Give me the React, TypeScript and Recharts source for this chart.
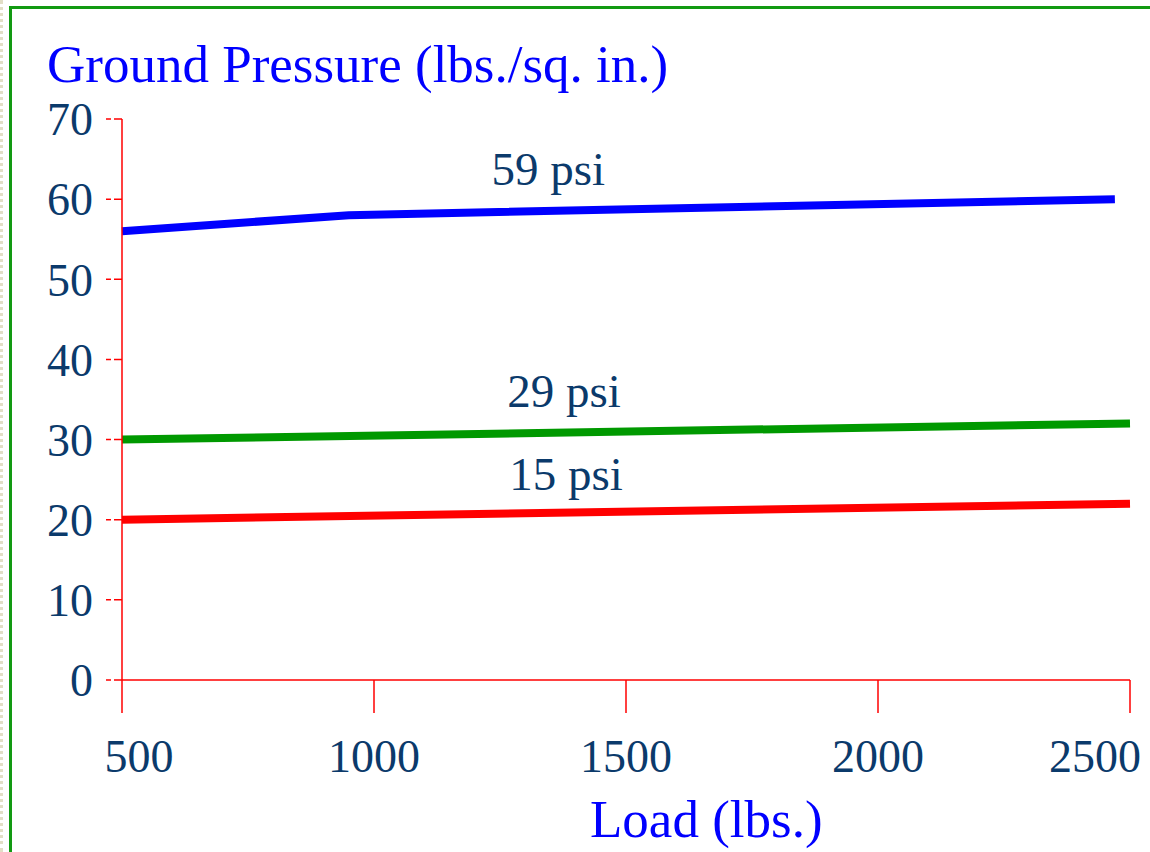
import { LineChart, Line, XAxis, YAxis, ReferenceDot, Label } from "recharts";

// belasting (lbs.) en bodemdruk (psi)
const loadTicks = [500, 1000, 1500, 2000, 2500];
const pressureTicks = [0, 10, 20, 30, 40, 50, 60, 70];

const blueLoad = [500, 950, 2470];
const bluePressure = [56, 58, 60];
const greenLoad = [500, 2500];
const greenPressure = [30, 32];
const redLoad = [500, 2500];
const redPressure = [20, 22];

const noteText = ["59 psi", "29 psi", "15 psi"];
const noteLoad = [1346, 1377, 1381];
const notePressure = [61.8, 34.1, 23.7];

const yTitle = "Ground Pressure (lbs./sq. in.)";
const xTitle = "Load (lbs.)";

const serif = '"Liberation Serif", "Times New Roman", serif';
const navy = "#0b3a6b";
const titleBlue = "#0000ff";
const axisRed = "#ff0000";

const toPoints = (xs: number[], ys: number[]) =>
  xs.map((x, i) => ({ load: x, psi: ys[i] }));

const blueData = toPoints(blueLoad, bluePressure);
const greenData = toPoints(greenLoad, greenPressure);
const redData = toPoints(redLoad, redPressure);

const LoadTick = (props: any) => {
  const { x, y, payload } = props;
  let dx = 0;
  if (payload.value === loadTicks[0]) dx = 17;
  else if (payload.value === loadTicks[loadTicks.length - 1]) dx = -35;
  return (
    <text
      x={x + dx}
      y={y + 59}
      textAnchor="middle"
      fill={navy}
      fontSize={46}
      fontFamily={serif}
    >
      {payload.value}
    </text>
  );
};

const App = () => {
  return (
    <div
      style={{
        position: "absolute",
        left: 0,
        top: 0,
        width: 1150,
        height: 852,
        overflow: "hidden",
        background: "#fff",
      }}
    >
      {/* rand links en groen kader */}
      <div
        style={{
          position: "absolute",
          left: 0,
          top: 0,
          height: 852,
          borderLeft: "3px dotted #e2dec6",
        }}
      />
      <div
        style={{
          position: "absolute",
          left: 9,
          top: 6,
          width: 1300,
          height: 1000,
          border: "3px solid #129a12",
        }}
      />
      <div style={{ position: "absolute", left: 0, top: 0 }}>
        <LineChart
          width={1150}
          height={852}
          margin={{ top: 119, right: 20, bottom: 72, left: 0 }}
        >
          <XAxis
            type="number"
            dataKey="load"
            domain={[500, 2500]}
            ticks={loadTicks}
            interval={0}
            height={100}
            tickSize={33}
            tickMargin={0}
            stroke={axisRed}
            strokeWidth={1.5}
            axisLine={{ stroke: axisRed, strokeWidth: 1.5 }}
            tickLine={{ stroke: axisRed, strokeWidth: 1.5 }}
            tick={<LoadTick />}
          >
            <Label
              content={(p: any) => (
                <text
                  x={p.viewBox.x + 468}
                  y={p.viewBox.y + 157}
                  fill={titleBlue}
                  fontSize={53}
                  fontFamily={serif}
                >
                  {xTitle}
                </text>
              )}
            />
          </XAxis>
          <YAxis
            type="number"
            domain={[0, 70]}
            ticks={pressureTicks}
            interval={0}
            width={122}
            tickSize={16}
            tickMargin={13}
            axisLine={{ stroke: axisRed, strokeWidth: 1.5 }}
            tickLine={{ stroke: axisRed, strokeWidth: 1.5, strokeDasharray: "5 3 9 3" }}
            tick={{ fill: navy, fontSize: 46, fontFamily: serif }}
          >
            <Label
              content={(p: any) => (
                <text
                  x={p.viewBox.x + 47}
                  y={p.viewBox.y - 37}
                  fill={titleBlue}
                  fontSize={53}
                  fontFamily={serif}
                >
                  {yTitle}
                </text>
              )}
            />
          </YAxis>
          <Line
            data={blueData}
            dataKey="psi"
            type="linear"
            stroke="#0000ff"
            strokeWidth={8}
            dot={false}
            activeDot={false}
            isAnimationActive={false}
          />
          <Line
            data={greenData}
            dataKey="psi"
            type="linear"
            stroke="#009900"
            strokeWidth={8}
            dot={false}
            activeDot={false}
            isAnimationActive={false}
          />
          <Line
            data={redData}
            dataKey="psi"
            type="linear"
            stroke="#ff0000"
            strokeWidth={8}
            dot={false}
            activeDot={false}
            isAnimationActive={false}
          />
          {noteText.map((t, i) => (
            <ReferenceDot
              key={t}
              x={noteLoad[i]}
              y={notePressure[i]}
              r={0}
              shape={(p: any) => (
                <text
                  x={p.cx}
                  y={p.cy}
                  textAnchor="middle"
                  fill={navy}
                  fontSize={47}
                  fontFamily={serif}
                >
                  {t}
                </text>
              )}
            />
          ))}
        </LineChart>
      </div>
    </div>
  );
};

export default App;
